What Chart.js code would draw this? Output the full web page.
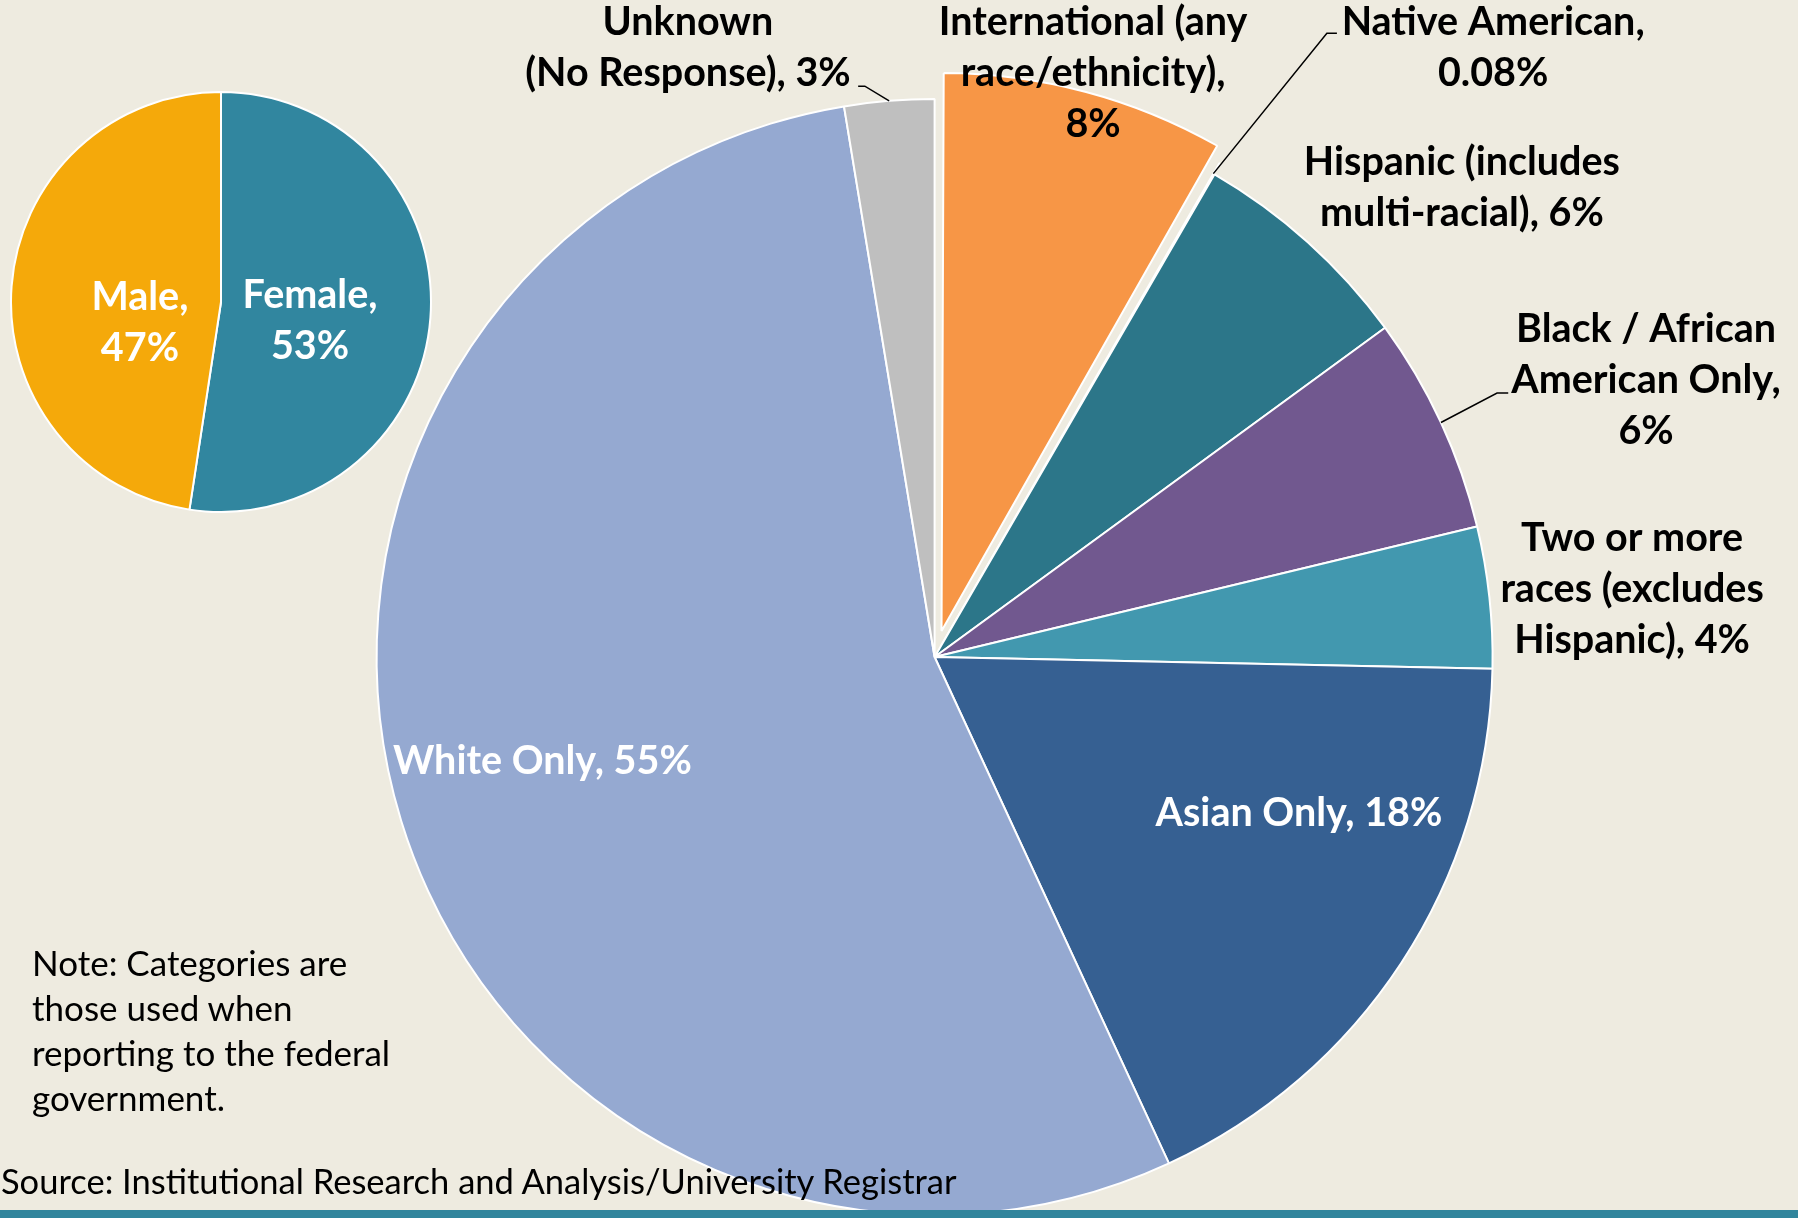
<!DOCTYPE html>
<html>
<head>
<meta charset="utf-8">
<title>Undergraduate diversity</title>
<script src="https://cdn.jsdelivr.net/npm/chart.js@4.4.1/dist/chart.umd.min.js"></script>
<style>
  html, body { margin: 0; padding: 0; }
  body {
    width: 1798px; height: 1218px; overflow: hidden; position: relative;
    background: #EEEBE0; font-family: Lato, "Open Sans", sans-serif;
  }
  #raceChart { position: absolute; left: 0; top: 0; }
  #genderChart { position: absolute; left: 10px; top: 91px; }
  .note {
    position: absolute; left: 32px; top: 940px; width: 400px;
    font-size: 35px; line-height: 45px; color: #000;
  }
  .source {
    position: absolute; left: 1px; top: 1161px;
    font-size: 34.5px; line-height: 40px; color: #000; white-space: nowrap;
  }
  .bottomBar { position: absolute; left: 0; top: 1210px; width: 1798px; height: 8px; background: #31859C; }
</style>
</head>
<body>
<canvas id="raceChart" width="1798" height="1300"></canvas>
<canvas id="genderChart" width="422" height="422"></canvas>
<div class="note">Note: Categories are those used when reporting to the federal government.</div>
<div class="source">Source: Institutional Research and Analysis/University Registrar</div>
<div class="bottomBar"></div>

<script>
// race / ethnicity (clockwise from 12 o'clock)
var raceLabels = ['International (any\nrace/ethnicity)', 'Native American', 'Hispanic (includes\nmulti-racial)',
    'Black / African\nAmerican Only', 'Two or more\nraces (excludes\nHispanic)', 'Asian Only', 'White Only',
    'Unknown\n(No Response)'];
var raceValues = [8.3, 0.08, 6.6, 6.3, 4.1, 17.8, 54.4, 2.6];
var racePct = ['8%', '0.08%', '6%', '6%', '4%', '18%', '55%', '3%'];
var raceColors = ['#F79646', '#1F3864', '#2C7689', '#71588F', '#4298AF', '#366092', '#95A9D1', '#BFBFBF'];

// gender
var genderLabels = ['Female', 'Male'];
var genderValues = [52.4, 47.6];
var genderPct = ['53%', '47%'];
var genderColors = ['#31869F', '#F5A90A'];

// where each label sits, in units of the pie radius from the pie centre
var raceLabelPos = [
    {dx: 0.284, dy: -1.047, sep: ',\n', color: '#000'},
    {dx: 1.001, dy: -1.091, sep: ',\n', color: '#000', leader: [[0.721, -1.118], [0.703, -1.118]]},
    {dx: 0.945, dy: -0.841, sep: ', ', color: '#000'},
    {dx: 1.275, dy: -0.496, sep: ',\n', color: '#000', leader: [[1.028, -0.473], [1.008, -0.473]]},
    {dx: 1.250, dy: -0.122, sep: ', ', color: '#000'},
    {dx: 0.653, dy: 0.280, sep: ', ', color: '#fff'},
    {dx: -0.703, dy: 0.186, sep: ', ', color: '#fff'},
    {dx: -0.442, dy: -1.091, sep: ', ', color: '#000', leader: [[-0.137, -1.023], [-0.125, -1.023]]}
];
var genderLabelPos = [
    {dx: 0.424, dy: 0.090, sep: ',\n', color: '#fff'},
    {dx: -0.386, dy: 0.098, sep: ',\n', color: '#fff'}
];

var labelFont = 'bold 39.5px Lato';
var lineH = 51;

// v4 also grows an exploded arc's radius (offset/4 * (1 - sin(circumference)));
// take that back so the pulled-out slice keeps the same size as the others
var keepRadius = {
    id: 'keepRadius',
    afterDatasetUpdate: function(chart, args) {
        args.meta.data.forEach(function(arc) {
            var o = ((arc.options && arc.options.offset) || 0) / 4;
            var fix = 1 - Math.sin(Math.min(Math.PI, arc.circumference || 0));
            arc.outerRadius -= o * fix;
        });
    }
};

function makeLabelPlugin(names, pcts, pos) {
    return {
        id: 'sliceLabels',
        afterDatasetsDraw: function(chart) {
            var ctx = chart.ctx;
            var meta = chart.getDatasetMeta(0);
            var arcs = meta.data;
            var cx = arcs[0].x, cy = arcs[0].y, r = meta.controller.outerRadius;
            ctx.save();
            // leader lines
            ctx.strokeStyle = '#000';
            ctx.lineWidth = 1.5;
            pos.forEach(function(p, i) {
                if (!p.leader) return;
                var a = arcs[i];
                var mid = (a.startAngle + a.endAngle) / 2;
                ctx.beginPath();
                ctx.moveTo(cx + p.leader[0][0] * r, cy + p.leader[0][1] * r);
                ctx.lineTo(cx + p.leader[1][0] * r, cy + p.leader[1][1] * r);
                ctx.lineTo(a.x + Math.cos(mid) * r, a.y + Math.sin(mid) * r);
                ctx.stroke();
            });
            // texts
            ctx.font = labelFont;
            ctx.textAlign = 'center';
            ctx.textBaseline = 'middle';
            pos.forEach(function(p, i) {
                var lines = (names[i] + p.sep + pcts[i]).split('\n');
                var x = cx + p.dx * r;
                var y0 = cy + p.dy * r - (lines.length - 1) * lineH / 2;
                ctx.fillStyle = p.color;
                lines.forEach(function(t, k) {
                    ctx.fillText(t, x, y0 + k * lineH);
                });
            });
            ctx.restore();
        }
    };
}

var raceCtx = document.getElementById('raceChart').getContext('2d');
var raceChart = new Chart(raceCtx, {
    type: 'pie',
    data: {
        labels: raceLabels,
        datasets: [{
            data: raceValues,
            backgroundColor: raceColors,
            borderColor: '#ffffff',
            borderWidth: 2,
            // Chart.js v4 moves an arc by offset / 4
            offset: [108, 48, 0, 0, 0, 0, 0, 0]
        }]
    },
    options: {
        responsive: false,
        animation: false,
        layout: { padding: { left: 321.6, top: 44, right: 250.4, bottom: 30 } },
        plugins: { legend: { display: false }, tooltip: { enabled: false } }
    },
    plugins: [keepRadius, makeLabelPlugin(raceLabels, racePct, raceLabelPos)]
});

var genderCtx = document.getElementById('genderChart').getContext('2d');
var genderChart = new Chart(genderCtx, {
    type: 'pie',
    data: {
        labels: genderLabels,
        datasets: [{
            data: genderValues,
            backgroundColor: genderColors,
            borderColor: '#ffffff',
            borderWidth: 2
        }]
    },
    options: {
        responsive: false,
        animation: false,
        plugins: { legend: { display: false }, tooltip: { enabled: false } }
    },
    plugins: [makeLabelPlugin(genderLabels, genderPct, genderLabelPos)]
});
</script>
</body>
</html>
